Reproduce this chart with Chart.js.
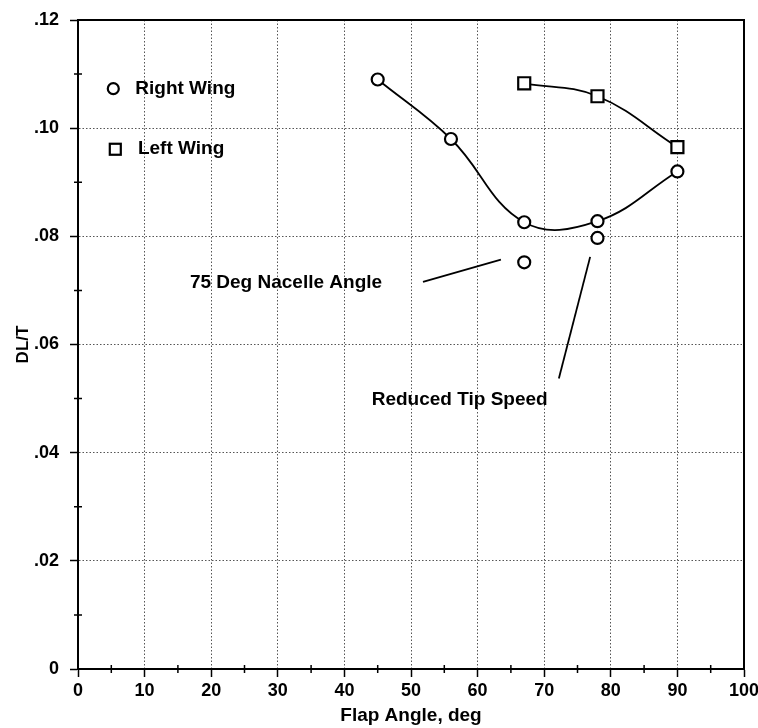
<!DOCTYPE html>
<html>
<head>
<meta charset="utf-8">
<script src="https://cdn.jsdelivr.net/npm/chart.js@4"></script>
<style>
  body { margin: 0; background: #fff; }
  canvas { display: block; }
</style>
</head>
<body>
<canvas id="myChart" width="758" height="728"></canvas>
<script>
// data
var flapRight = [45, 56, 67, 78, 90];
var dltRight = [0.109, 0.098, 0.0826, 0.0828, 0.092];
var flapLeft = [67, 78, 90];
var dltLeft = [0.1083, 0.1059, 0.0965];
var flapExtra = [67, 78];          // 75 deg nacelle, reduced tip speed
var dltExtra = [0.0752, 0.0797];
var xTickLabels = ['0', '10', '20', '30', '40', '50', '60', '70', '80', '90', '100'];
var yTickLabels = ['0', '.02', '.04', '.06', '.08', '.10', '.12'];

var FONT = '"Liberation Sans", Arial, sans-serif';

function pts(xs, ys) {
    return xs.map(function(x, i) { return {x: x, y: ys[i]}; });
}

// text and leader lines, placed in data coordinates
var notes = {
    texts: [
        {text: 'Right Wing', x: 8.6, y: 0.1073},
        {text: 'Left Wing', x: 9.0, y: 0.0961},
        {text: '75 Deg Nacelle Angle', x: 16.8, y: 0.0714},
        {text: 'Reduced Tip Speed', x: 44.1, y: 0.0497}
    ],
    lines: [
        [51.8, 0.0716, 63.5, 0.0757],
        [72.2, 0.0537, 76.9, 0.0762]
    ],
    keyCircle: [5.3, 0.1073],
    keySquare: [5.6, 0.0961]
};

var framePlugin = {
    id: 'frame',
    beforeDatasetsDraw: function(chart) {
        var ctx = chart.ctx, a = chart.chartArea;
        var xs = chart.scales.x, ys = chart.scales.y;
        ctx.save();
        ctx.strokeStyle = '#000';
        ctx.lineWidth = 2;
        ctx.strokeRect(a.left, a.top, a.right - a.left, a.bottom - a.top);
        // minor ticks
        ctx.lineWidth = 1.5;
        ctx.beginPath();
        for (var v = 5; v < 100; v += 10) {
            var px = xs.getPixelForValue(v);
            ctx.moveTo(px, a.bottom - 4);
            ctx.lineTo(px, a.bottom + 4);
        }
        for (var k = 1; k < 12; k += 2) {
            var py = ys.getPixelForValue(k / 100);
            ctx.moveTo(a.left - 4, py);
            ctx.lineTo(a.left + 4, py);
        }
        ctx.stroke();
        ctx.restore();
    },
    afterDatasetsDraw: function(chart) {
        var ctx = chart.ctx;
        var xs = chart.scales.x, ys = chart.scales.y;
        ctx.save();
        ctx.fillStyle = '#000';
        ctx.strokeStyle = '#000';
        ctx.font = 'bold 19px ' + FONT;
        ctx.textBaseline = 'middle';
        ctx.textAlign = 'left';
        notes.texts.forEach(function(t) {
            ctx.fillText(t.text, xs.getPixelForValue(t.x), ys.getPixelForValue(t.y));
        });
        ctx.lineWidth = 1.8;
        notes.lines.forEach(function(l) {
            ctx.beginPath();
            ctx.moveTo(xs.getPixelForValue(l[0]), ys.getPixelForValue(l[1]));
            ctx.lineTo(xs.getPixelForValue(l[2]), ys.getPixelForValue(l[3]));
            ctx.stroke();
        });
        ctx.lineWidth = 2.2;
        ctx.beginPath();
        ctx.arc(xs.getPixelForValue(notes.keyCircle[0]), ys.getPixelForValue(notes.keyCircle[1]), 5.5, 0, Math.PI * 2);
        ctx.stroke();
        var sx = xs.getPixelForValue(notes.keySquare[0]), sy = ys.getPixelForValue(notes.keySquare[1]);
        ctx.strokeRect(sx - 5.5, sy - 5.5, 11, 11);
        ctx.restore();
    }
};

var ctx = document.getElementById('myChart').getContext('2d');
var chart = new Chart(ctx, {
    type: 'scatter',
    data: {
        datasets: [{
            label: 'Right Wing',
            data: pts(flapRight, dltRight),
            showLine: true,
            tension: 0.4,
            borderColor: '#000',
            borderWidth: 1.8,
            pointStyle: 'circle',
            pointRadius: 6,
            pointBorderWidth: 2.2,
            pointBackgroundColor: '#fff',
            pointBorderColor: '#000'
        }, {
            label: 'Left Wing',
            data: pts(flapLeft, dltLeft),
            showLine: true,
            tension: 0.4,
            borderColor: '#000',
            borderWidth: 1.8,
            pointStyle: 'rect',
            pointRadius: 8.5,
            pointBorderWidth: 2.2,
            pointBackgroundColor: '#fff',
            pointBorderColor: '#000'
        }, {
            label: 'Single',
            data: pts(flapExtra, dltExtra),
            showLine: false,
            pointStyle: 'circle',
            pointRadius: 6,
            pointBorderWidth: 2.2,
            pointBackgroundColor: '#fff',
            pointBorderColor: '#000'
        }]
    },
    options: {
        responsive: false,
        animation: false,
        layout: {padding: {top: 20, right: 14, left: 0, bottom: 0}},
        plugins: {legend: {display: false}, tooltip: {enabled: false}},
        scales: {
            x: {
                type: 'linear',
                min: 0,
                max: 100,
                afterFit: function(s) { s.height = 59; s.paddingLeft = 0; s.paddingRight = 0; },
                ticks: {
                    stepSize: 10,
                    color: '#000',
                    padding: 3,
                    maxRotation: 0,
                    font: {family: FONT, size: 18, weight: 'bold'},
                    callback: function(v, i) { return xTickLabels[i]; }
                },
                grid: {color: '#555', lineWidth: 1, tickColor: '#000', tickLength: 8, tickWidth: 1.5},
                border: {color: '#000', width: 2, dash: [1.5, 2]},
                title: {
                    display: true,
                    text: 'Flap Angle, deg',
                    color: '#000',
                    font: {family: FONT, size: 19, weight: 'bold'},
                    padding: {top: 0, bottom: 1}
                }
            },
            y: {
                min: 0,
                max: 0.12,
                afterFit: function(s) { s.width = 78; s.paddingTop = 0; s.paddingBottom = 0; },
                ticks: {
                    stepSize: 0.02,
                    color: '#000',
                    padding: 11,
                    font: {family: FONT, size: 18, weight: 'bold'},
                    callback: function(v, i) { return yTickLabels[i]; }
                },
                grid: {color: '#555', lineWidth: 1, tickColor: '#000', tickLength: 8, tickWidth: 1.5},
                border: {color: '#000', width: 2, dash: [1.5, 2]},
                title: {
                    display: true,
                    text: 'DL/T',
                    color: '#000',
                    font: {family: FONT, size: 17, weight: 'bold'},
                    padding: {top: 13, bottom: 0}
                }
            }
        }
    },
    plugins: [framePlugin]
});
</script>
</body>
</html>
